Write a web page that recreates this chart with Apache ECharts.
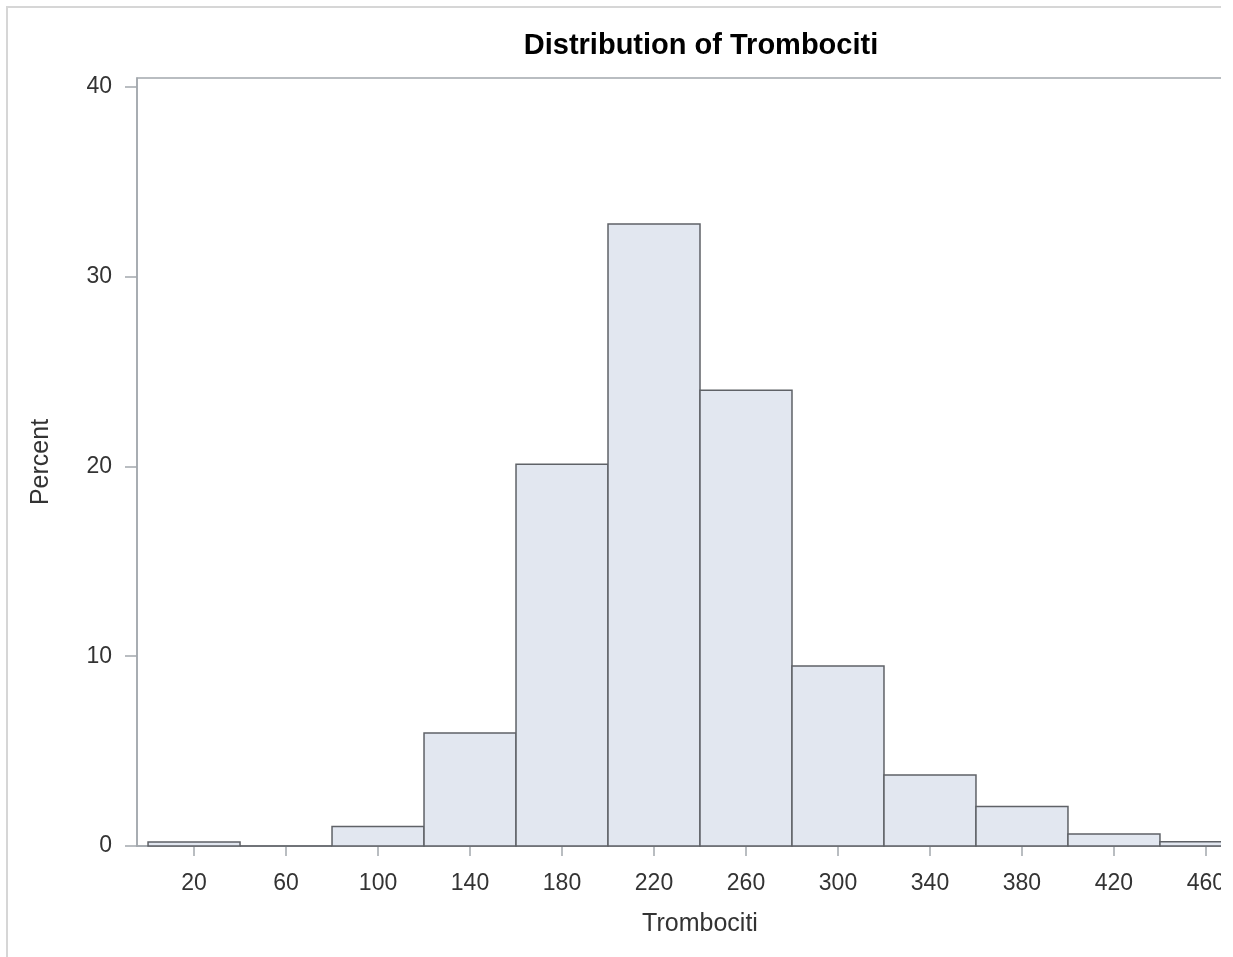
<!DOCTYPE html>
<html>
<head>
<meta charset="utf-8">
<script src="https://cdn.jsdelivr.net/npm/echarts@6/dist/echarts.min.js"></script>
<style>
  html, body { margin: 0; padding: 0; background: #fff; }
  #clip { position: absolute; left: 0; top: 0; width: 1221px; height: 957px; overflow: hidden; background: #fff; }
  #frame { position: absolute; left: 6px; top: 6px; width: 1500px; height: 1200px; border: 2px solid #d6d6d6; box-sizing: border-box; }
  #chart { position: absolute; left: 0; top: 0; width: 1402px; height: 957px; }
</style>
</head>
<body>
<div id="clip">
  <div id="frame"></div>
  <div id="chart"></div>
</div>
<script>
// Data
const binStart = [0, 40, 80, 120, 160, 200, 240, 280, 320, 360, 400, 440];
const binWidth = 40;
const percentValues = [0.21, 0, 1.03, 5.95, 20.12, 32.77, 24.02, 9.48, 3.74, 2.08, 0.63, 0.22];
const xTickValues = [20, 60, 100, 140, 180, 220, 260, 300, 340, 380, 420, 460];
const yTickValues = [0, 10, 20, 30, 40];

const chart = echarts.init(document.getElementById('chart'), null, { renderer: 'canvas' });
const font = '"Liberation Sans", Arial, sans-serif';
const axisGray = '#a3a8ad';

const barData = binStart.map((s, i) => [s, s + binWidth, percentValues[i]]);

chart.setOption({
  animation: false,
  title: {
    text: 'Distribution of Trombociti',
    left: 'center',
    top: 26,
    textStyle: { fontFamily: font, fontSize: 29, fontWeight: 'bold', color: '#000' }
  },
  grid: {
    left: 137, right: 139, top: 78, bottom: 111,
    show: true, borderColor: axisGray, borderWidth: 1.5, backgroundColor: '#fff'
  },
  xAxis: {
    type: 'value',
    min: -4.8, max: 484.8,
    name: 'Trombociti',
    nameLocation: 'middle',
    nameGap: 66,
    nameTextStyle: { fontFamily: font, fontSize: 25, color: '#333' },
    axisLine: { show: true, onZero: false, lineStyle: { color: axisGray, width: 1.5 } },
    axisTick: { show: true, customValues: xTickValues, length: 10, lineStyle: { color: axisGray, width: 1.5 } },
    axisLabel: { customValues: xTickValues, margin: 26, fontFamily: font, fontSize: 23, color: '#333' },
    splitLine: { show: false }
  },
  yAxis: {
    type: 'value',
    min: 0, max: 40.47,
    name: 'Percent',
    nameLocation: 'middle',
    nameGap: 83,
    nameRotate: 90,
    nameTextStyle: { fontFamily: font, fontSize: 25, color: '#333' },
    axisLine: { show: true, onZero: false, lineStyle: { color: axisGray, width: 1.5 } },
    axisTick: { show: true, customValues: yTickValues, length: 12, lineStyle: { color: axisGray, width: 1.5 } },
    axisLabel: { customValues: yTickValues, margin: 25, fontFamily: font, fontSize: 23, color: '#333' },
    splitLine: { show: false }
  },
  series: [{
    type: 'custom',
    data: barData,
    encode: { x: [0, 1], y: 2 },
    renderItem: function (params, api) {
      const p0 = api.coord([api.value(0), api.value(2)]);
      const p1 = api.coord([api.value(1), 0]);
      return {
        type: 'rect',
        shape: { x: p0[0], y: p0[1], width: p1[0] - p0[0], height: p1[1] - p0[1] },
        style: { fill: '#e2e7f0', stroke: '#5f6267', lineWidth: 1.5 }
      };
    }
  }]
});
</script>
</body>
</html>
